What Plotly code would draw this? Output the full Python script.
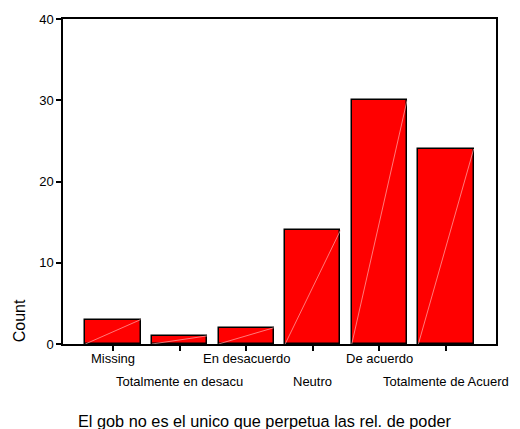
import plotly.graph_objects as go

# category labels and counts
categories = ["Missing", "Totalmente en desacu", "En desacuerdo",
              "Neutro", "De acuerdo", "Totalmente de Acuerd"]
counts = [3, 1, 2, 14, 30, 24]
y_ticks = [0, 10, 20, 30, 40]

bar_width = 0.83
font = "Liberation Sans, Arial, sans-serif"

fig = go.Figure()

# red bars with black outline
fig.add_trace(go.Bar(
    x=list(range(len(categories))),
    y=counts,
    width=bar_width,
    marker=dict(color="#ff0000", line=dict(color="black", width=1.5)),
    showlegend=False,
))

# the faint diagonal each bar has (bottom-left to top-right)
for i, c in enumerate(counts):
    fig.add_trace(go.Scatter(
        x=[i - bar_width / 2, i + bar_width / 2],
        y=[0, c],
        mode="lines",
        line=dict(color="rgba(255,190,190,0.8)", width=0.8),
        hoverinfo="skip",
        showlegend=False,
    ))

# tick labels in two staggered rows
for i, name in enumerate(categories):
    fig.add_annotation(
        x=i, y=0, xref="x", yref="paper",
        text=name, showarrow=False,
        yanchor="middle", yshift=-14 if i % 2 == 0 else -37,
        font=dict(family=font, size=13, color="black"),
    )

# y title sits low, like the original
fig.add_annotation(
    x=-0.1016, y=0.07, xref="paper", yref="paper",
    xanchor="center", yanchor="middle",
    text="Count", textangle=-90, showarrow=False,
    font=dict(family=font, size=16, color="black"),
)

fig.add_annotation(
    x=0.465, y=-0.237, xref="paper", yref="paper",
    xanchor="center", yanchor="middle",
    text="El gob no es el unico que perpetua las rel. de poder",
    showarrow=False,
    font=dict(family=font, size=16.3, color="black"),
)

fig.update_xaxes(
    range=[-0.75, 5.75],
    tickvals=list(range(len(categories))),
    ticktext=[""] * len(categories),
    ticks="outside", ticklen=5, tickwidth=1.5, tickcolor="black",
    showline=True, linecolor="black", linewidth=1.5, mirror=True,
    showgrid=False, zeroline=False,
)
fig.update_yaxes(
    range=[0, 40],
    tickvals=y_ticks,
    ticks="outside", ticklen=5, tickwidth=1.5, tickcolor="black",
    showline=True, linecolor="black", linewidth=1.5, mirror=True,
    showgrid=False, zeroline=False,
    tickfont=dict(family=font, size=13, color="black"),
)

fig.update_layout(
    width=520, height=429,
    margin=dict(l=63, r=24, t=15, b=85),
    plot_bgcolor="white", paper_bgcolor="white",
    bargap=0,
)

fig.write_html("out.html", config={"displayModeBar": False},
               post_script="document.body.style.margin='0';")
